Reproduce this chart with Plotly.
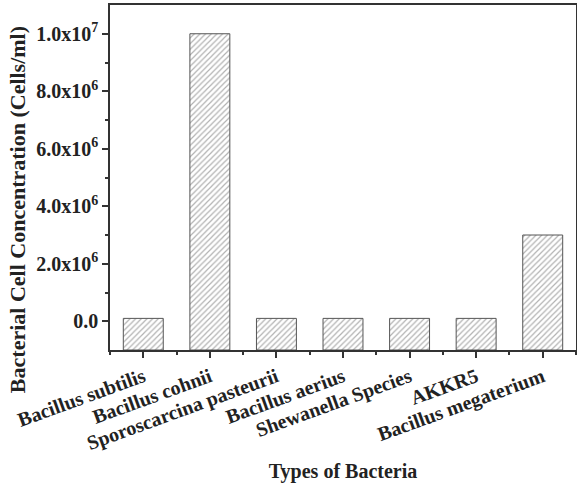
import plotly.graph_objects as go

categories = ["Bacillus subtilis", "Bacillus cohnii", "Sporoscarcina pasteurii",
              "Bacillus aerius", "Shewanella Species", "AKKR5", "Bacillus megaterium"]
values = [1.0e5, 1.0e7, 1.0e5, 1.0e5, 1.0e5, 1.0e5, 3.0e6]
ytick_vals = [0, 2e6, 4e6, 6e6, 8e6, 1e7]
ytick_text = ["0.0", "2.0x10<sup>6</sup>", "4.0x10<sup>6</sup>", "6.0x10<sup>6</sup>",
              "8.0x10<sup>6</sup>", "1.0x10<sup>7</sup>"]

base = -1.0e6
xpos = list(range(len(categories)))

fig = go.Figure(go.Bar(
    x=xpos,
    y=[v - base for v in values],
    base=base,
    width=0.6,
    marker=dict(color="white", line=dict(color="#555", width=1),
                pattern=dict(shape="/", fgcolor="#666", bgcolor="white", size=4, solidity=0.3)),
))

font = dict(family="Liberation Serif", size=20, color="#222")
fig.update_layout(
    width=577, height=487,
    margin=dict(l=110, r=1, t=5, b=137),
    plot_bgcolor="white", paper_bgcolor="white",
    showlegend=False,
    font=font,
    xaxis=dict(
        range=[-0.5, 6.5], tickvals=xpos, ticktext=["<b>%s</b>" % c for c in categories],
        tickangle=-20, ticks="outside", ticklen=6, tickwidth=1.5, tickcolor="#333",
        showline=True, linecolor="#333", linewidth=1.5, mirror=True, showgrid=False,
        zeroline=False, automargin=False,
        minor=dict(ticks="outside", ticklen=3, tickwidth=1.5, tickcolor="#333", dtick=0.5, tick0=-0.5),
        title=dict(text="<b>Types of Bacteria</b>", font=dict(family="Liberation Serif", size=20), standoff=10),
        tickfont=dict(family="Liberation Serif", size=20),
    ),
    yaxis=dict(
        range=[-1.0e6, 1.1e7], tickvals=ytick_vals, ticktext=["<b>%s</b>" % t for t in ytick_text],
        ticks="outside", ticklen=6, tickwidth=1.5, tickcolor="#333",
        showline=True, linecolor="#333", linewidth=1.5, mirror=True, showgrid=False,
        zeroline=False, automargin=False,
        minor=dict(ticks="outside", ticklen=3, tickwidth=1.5, tickcolor="#333",
                   tickvals=[1e6, 3e6, 5e6, 7e6, 9e6]),
        tickfont=dict(family="Liberation Serif", size=20),
    ),
    annotations=[dict(
        text="<b>Bacterial Cell Concentration (Cells/ml)</b>",
        xref="paper", yref="paper", x=-0.197, y=0.406,
        xanchor="center", yanchor="middle", textangle=-90, showarrow=False,
        font=dict(family="Liberation Serif", size=22, color="#222"),
    )],
)

fig.write_html("out.html", config={"displayModeBar": False},
               post_script="document.body.style.margin='0px';")
